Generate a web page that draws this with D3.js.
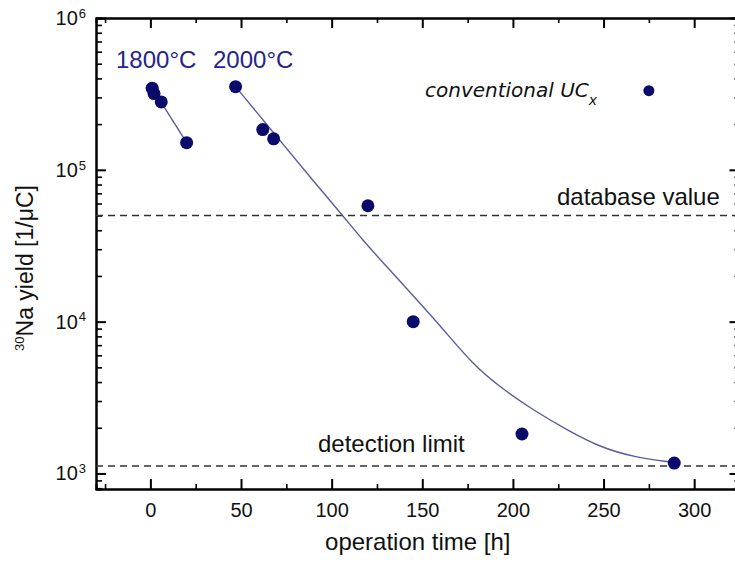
<!DOCTYPE html>
<html>
<head>
<meta charset="utf-8">
<script src="https://cdn.jsdelivr.net/npm/d3@7"></script>
<style>
body { margin: 0; background: #fff; }
</style>
</head>
<body>
<div id="chart-area"></div>
<script>
// measured points (operation time [h], yield [1/uC])
var t1800 = [1, 2, 6, 20];
var y1800 = [345000, 318000, 280000, 151000];
var t2000 = [47, 62, 68, 120, 145, 205, 289];
var y2000 = [353000, 184000, 160000, 58000, 10000, 1820, 1170];
var tConv = [275];
var yConv = [332000];

// fit curves
var fit1800T = [1, 20];
var fit1800Y = [345000, 151000];
var fit2000T = [47, 70, 90, 105, 117, 130, 142, 160, 178, 193, 211, 230, 248, 267, 287];
var fit2000Y = [353000, 164000, 84000, 52000, 34500, 23300, 16200, 9400, 5200, 3700, 2620, 1930, 1490, 1280, 1190];

var databaseValue = 50000;
var detectionLimit = 1120;

var xTicks = [0, 50, 100, 150, 200, 250, 300];
var xMinor = [-25, 25, 75, 125, 175, 225, 275, 325];
var yTicks = [1e3, 1e4, 1e5, 1e6];
var yExp = ["3", "4", "5", "6"];

var W = 735, H = 563;
var plotL = 96, plotR = 739.5, plotT = 18, plotB = 489;
var font = "'Liberation Sans', Arial, sans-serif";
var navy = "#0b0b6b";

var svg = d3.select('#chart-area').append('svg')
    .attr('width', W)
    .attr('height', H)
    .style('display', 'block');

var x = d3.scaleLinear().domain([-30, 325]).range([plotL, plotR]);
var y = d3.scaleLog().domain([790, 1e6]).range([plotB, plotT]);

// minor y ticks 2..9 per decade
var yMinor = [];
[100, 1000, 10000, 100000].forEach(function(dec){
    for (var k = 2; k <= 9; k++) {
        var v = dec * k;
        if (v > 790 && v < 1e6) yMinor.push(v);
    }
});

function styleAxis(sel, w) {
    sel.select('.domain').attr('stroke', '#000').attr('stroke-width', 2);
    sel.selectAll('.tick line').attr('stroke', '#000').attr('stroke-width', w);
}

// bottom
var gB = svg.append('g').attr('transform', 'translate(0,' + plotB + ')')
    .call(d3.axisBottom(x).tickValues(xTicks).tickSizeInner(-10).tickSizeOuter(0).tickPadding(14));
styleAxis(gB, 2);
gB.selectAll('text').attr('font-family', font).attr('font-size', 20).attr('fill', '#111');
var gBm = svg.append('g').attr('transform', 'translate(0,' + plotB + ')')
    .call(d3.axisBottom(x).tickValues(xMinor).tickSize(-5).tickFormat(''));
styleAxis(gBm, 1.6);

// top
var gT = svg.append('g').attr('transform', 'translate(0,' + plotT + ')')
    .call(d3.axisTop(x).tickValues(xTicks).tickSizeInner(-10).tickSizeOuter(0).tickFormat(''));
styleAxis(gT, 2);
var gTm = svg.append('g').attr('transform', 'translate(0,' + plotT + ')')
    .call(d3.axisTop(x).tickValues(xMinor).tickSize(-5).tickFormat(''));
styleAxis(gTm, 1.6);

// left
var gL = svg.append('g').attr('transform', 'translate(' + plotL + ',0)')
    .call(d3.axisLeft(y).tickValues(yTicks).tickSizeInner(-10).tickSizeOuter(0).tickPadding(10)
        .tickFormat(function(){ return '10'; }));
styleAxis(gL, 2);
gL.selectAll('.tick text')
    .attr('font-family', font).attr('font-size', 20).attr('fill', '#111')
    .each(function(d, i){
        d3.select(this).append('tspan')
            .attr('dx', 1)
            .attr('dy', '-0.55em')
            .attr('font-size', 13)
            .text(yExp[i]);
    });
var gLm = svg.append('g').attr('transform', 'translate(' + plotL + ',0)')
    .call(d3.axisLeft(y).tickValues(yMinor).tickSize(-6).tickFormat(''));
styleAxis(gLm, 1.6);

// right
var gR = svg.append('g').attr('transform', 'translate(' + plotR + ',0)')
    .call(d3.axisRight(y).tickValues(yTicks).tickSizeInner(-10).tickSizeOuter(0).tickFormat(''));
styleAxis(gR, 2);
var gRm = svg.append('g').attr('transform', 'translate(' + plotR + ',0)')
    .call(d3.axisRight(y).tickValues(yMinor).tickSize(-5).tickFormat(''));
styleAxis(gRm, 1.6);

// reference lines
[databaseValue, detectionLimit].forEach(function(v){
    svg.append('line')
        .attr('x1', plotL).attr('x2', plotR)
        .attr('y1', y(v)).attr('y2', y(v))
        .attr('stroke', '#333')
        .attr('stroke-width', 1.6)
        .attr('stroke-dasharray', '7,5');
});

// fit lines
var line = d3.line()
    .x(function(d){ return x(d[0]); })
    .y(function(d){ return y(d[1]); });

svg.append('path')
    .datum(d3.zip(fit1800T, fit1800Y))
    .attr('d', line)
    .attr('fill', 'none')
    .attr('stroke', '#5c5c9c')
    .attr('stroke-width', 1.4);

svg.append('path')
    .datum(d3.zip(fit2000T, fit2000Y))
    .attr('d', line.curve(d3.curveBasis))
    .attr('fill', 'none')
    .attr('stroke', '#5c5c9c')
    .attr('stroke-width', 1.4);

// points
var pts = d3.zip(t1800, y1800).concat(d3.zip(t2000, y2000));
svg.selectAll('circle.pt')
    .data(pts)
    .enter()
    .append('circle')
        .attr('class', 'pt')
        .attr('cx', function(d){ return x(d[0]); })
        .attr('cy', function(d){ return y(d[1]); })
        .attr('r', 6.5)
        .attr('fill', navy);

svg.selectAll('circle.conv')
    .data(d3.zip(tConv, yConv))
    .enter()
    .append('circle')
        .attr('class', 'conv')
        .attr('cx', function(d){ return x(d[0]); })
        .attr('cy', function(d){ return y(d[1]); })
        .attr('r', 5.5)
        .attr('fill', navy);

// labels
svg.append('text').attr('x', 116).attr('y', 68)
    .attr('font-family', font).attr('font-size', 24).attr('fill', '#24248c')
    .text('1800°C');
svg.append('text').attr('x', 213).attr('y', 68)
    .attr('font-family', font).attr('font-size', 24).attr('fill', '#24248c')
    .text('2000°C');

var conv = svg.append('text').attr('x', 425).attr('y', 97)
    .attr('font-family', "'DejaVu Sans', sans-serif").attr('font-size', 20)
    .attr('font-style', 'italic').attr('fill', '#111');
conv.append('tspan').text('conventional UC');
conv.append('tspan').attr('dy', 8).attr('font-size', 14).text('x');

svg.append('text').attr('x', 557).attr('y', 205)
    .attr('font-family', font).attr('font-size', 24).attr('fill', '#111')
    .text('database value');
svg.append('text').attr('x', 318).attr('y', 452)
    .attr('font-family', font).attr('font-size', 24).attr('fill', '#111')
    .text('detection limit');

// axis titles
svg.append('text')
    .attr('x', (plotL + plotR) / 2).attr('y', 550)
    .attr('text-anchor', 'middle')
    .attr('font-family', font).attr('font-size', 24).attr('fill', '#111')
    .text('operation time [h]');

var yt = svg.append('text')
    .attr('transform', 'translate(33,268) rotate(-90)')
    .attr('text-anchor', 'middle')
    .attr('font-family', font).attr('font-size', 23).attr('fill', '#111');
yt.append('tspan').attr('font-size', 13).attr('dy', -9).text('30');
yt.append('tspan').attr('dy', 9).text('Na yield [1/μC]');
</script>
</body>
</html>
